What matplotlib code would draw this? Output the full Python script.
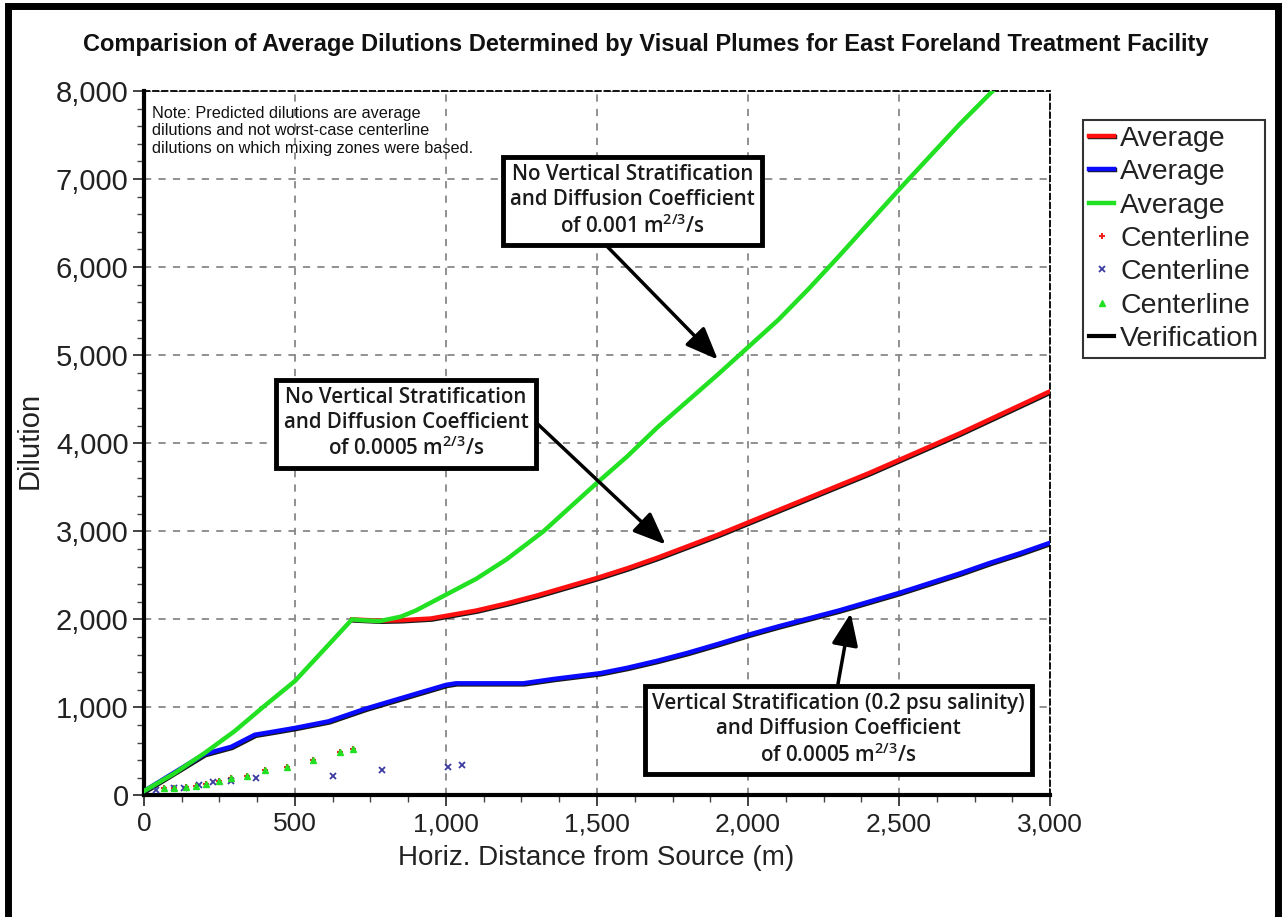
import matplotlib
matplotlib.use("Agg")
import matplotlib.pyplot as plt
import matplotlib.patheffects as pe
from matplotlib.patches import Rectangle
from matplotlib.ticker import MultipleLocator, FuncFormatter

plt.rcParams['font.family'] = ['Liberation Sans', 'DejaVu Sans']

# average dilution curves
dist_red = [689, 780, 850, 950, 1000, 1100, 1200, 1300, 1400, 1500, 1600, 1700, 1800, 1900, 2000,
            2100, 2200, 2300, 2400, 2500, 2600, 2700, 2800, 2900, 3000]
dil_red = [2000, 1985, 1990, 2010, 2040, 2100, 2180, 2270, 2370, 2470, 2580, 2700, 2830, 2960, 3100,
           3240, 3380, 3520, 3660, 3810, 3960, 4110, 4270, 4430, 4590]

dist_blue = [0, 100, 200, 289, 367, 420, 500, 611, 733, 844, 1000, 1033, 1256, 1356, 1511, 1600,
             1700, 1800, 1900, 2000, 2100, 2200, 2300, 2400, 2500, 2600, 2700, 2800, 2900, 3000]
dil_blue = [50, 260, 470, 553, 690, 720, 767, 842, 985, 1098, 1256, 1274, 1274, 1323, 1389, 1450,
            1530, 1620, 1720, 1824, 1920, 2010, 2100, 2200, 2300, 2410, 2520, 2640, 2750, 2870]

dist_green = [0, 100, 200, 300, 400, 500, 600, 689, 720, 780, 850, 900, 1000, 1100, 1200, 1323,
              1400, 1500, 1600, 1700, 1800, 1900, 2000, 2100, 2200, 2300, 2400, 2500, 2600, 2700,
              2810]
dil_green = [50, 250, 480, 730, 1020, 1300, 1670, 2000, 1990, 1980, 2030, 2100, 2280, 2460, 2680, 3000,
             3240, 3550, 3850, 4180, 4480, 4780, 5090, 5400, 5750, 6120, 6500, 6880, 7250, 7620,
             8000]

# centerline points
cl_dist_rg = [67, 100, 139, 172, 206, 247, 289, 342, 402, 474, 559, 650, 691]
cl_dil_rg = [83, 90, 102, 113, 135, 165, 195, 222, 286, 327, 406, 489, 526]
cl_dist_b = [39, 100, 133, 183, 228, 289, 372, 626, 789, 1006, 1053]
cl_dil_b = [64, 83, 90, 120, 150, 165, 203, 222, 286, 323, 346]

title = "Comparision of Average Dilutions Determined by Visual Plumes for East Foreland Treatment Facility"
note = ("Note: Predicted dilutions are average\n"
        "dilutions and not worst-case centerline\n"
        "dilutions on which mixing zones were based.")
box1 = "No Vertical Stratification\nand Diffusion Coefficient\nof 0.001 m$^{\\mathregular{2/3}}$/s"
box2 = "No Vertical Stratification\nand Diffusion Coefficient\nof 0.0005 m$^{\\mathregular{2/3}}$/s"
box3 = ("Vertical Stratification (0.2 psu salinity)\nand Diffusion Coefficient\n"
        "of 0.0005 m$^{\\mathregular{2/3}}$/s")

fig = plt.figure(figsize=(12.84, 9.17), dpi=100)
ax = fig.add_axes([0.1121, 0.1325, 0.7057, 0.7683])

shadow = [pe.SimpleLineShadow(offset=(0.8, -0.8), shadow_color='k', alpha=0.9), pe.Normal()]

ax.plot(dist_red, dil_red, color='#ff1010', lw=3.2, label='Average', path_effects=shadow, zorder=3)
ax.plot(dist_blue, dil_blue, color='#0a0aff', lw=3.2, label='Average', path_effects=shadow, zorder=3)
ax.plot(dist_green, dil_green, color='#22e022', lw=3.2, label='Average', zorder=4)
ax.plot(cl_dist_rg, cl_dil_rg, ls='none', marker='+', ms=5, mew=1.5, color='#ee2020',
        label='Centerline', zorder=3)
ax.plot(cl_dist_b, cl_dil_b, ls='none', marker='x', ms=4, mew=1.3, color='#3a3aa0',
        label='Centerline', zorder=3)
ax.plot(cl_dist_rg, cl_dil_rg, ls='none', marker='^', ms=4, color='#22e022',
        label='Centerline', zorder=4)
ax.plot([], [], color='k', lw=3, label='Verification')

ax.set_xlim(0, 3000)
ax.set_ylim(0, 8000)
ax.xaxis.set_major_locator(MultipleLocator(500))
ax.xaxis.set_minor_locator(MultipleLocator(125))
ax.yaxis.set_major_locator(MultipleLocator(1000))
ax.yaxis.set_minor_locator(MultipleLocator(200))
fmt = FuncFormatter(lambda v, p: '{:,.0f}'.format(v))
ax.xaxis.set_major_formatter(fmt)
ax.yaxis.set_major_formatter(fmt)
ax.tick_params(axis='x', which='major', length=8, width=1.2, labelsize=19, pad=4, colors='#222')
ax.tick_params(axis='y', which='major', length=8, width=1.2, labelsize=21, pad=3, colors='#222')
ax.tick_params(which='minor', length=5, width=1, colors='#444')
ax.grid(True, which='major', color='#888888', ls=(0, (4, 4)), lw=1.3)

for s in ['left', 'bottom']:
    ax.spines[s].set_linewidth(3)
for s in ['top', 'right']:
    ax.spines[s].set_linestyle((0, (3, 2)))
    ax.spines[s].set_linewidth(1.3)

ax.text(0.009, 0.979, note, transform=ax.transAxes, va='top', ha='left', fontsize=11.7,
        linespacing=1.22, color='#111')

bbox = dict(boxstyle='square,pad=0.36', fc='white', ec='k', lw=3.5)
tfont = dict(family=['Open Sans', 'DejaVu Sans'], weight='semibold', fontsize=14.8, color='#1a1a1a',
             ha='center', va='center', linespacing=1.22, zorder=6)
ax.text(1617, 6750, box1, bbox=bbox, **tfont)
ax.text(868, 4220, box2, bbox=bbox, **tfont)
ax.text(2300, 744, box3, bbox=bbox, **tfont)

arrow = dict(arrowstyle='-|>,head_length=1.1,head_width=0.45', lw=2.5, color='k',
             mutation_scale=18, shrinkA=0, shrinkB=0)
ax.annotate('', xy=(1900, 4950), xytext=(1535, 6230), arrowprops=arrow, zorder=5)
ax.annotate('', xy=(1727, 2850), xytext=(1300, 4230), arrowprops=arrow, zorder=5)
ax.annotate('', xy=(2340, 2070), xytext=(2298, 1270), arrowprops=arrow, zorder=5)

fig.text(0.503, 0.951, title, ha='center', va='center', fontsize=17, weight='bold', color='#111')
fig.text(0.464, 0.064, 'Horiz. Distance from Source (m)', ha='center', va='center', fontsize=20,
         color='#222')
fig.text(0.0234, 0.52, 'Dilution', rotation=90, ha='center', va='center', fontsize=21, color='#222')

leg = fig.legend(loc='upper left', bbox_to_anchor=(0.8435, 0.869), fontsize=20.5,
                 frameon=True, fancybox=False, edgecolor='k', handlelength=0.9,
                 handletextpad=0.2, labelspacing=0.26, borderpad=0.2, borderaxespad=0)
leg.get_frame().set_linewidth(1.5)
for t in leg.get_texts():
    t.set_color('#222')

fig.patches.append(Rectangle((0.006, -0.02), 0.989, 1.0135, transform=fig.transFigure,
                             fill=False, lw=5, ec='k'))

fig.savefig('out.png', dpi=100)
